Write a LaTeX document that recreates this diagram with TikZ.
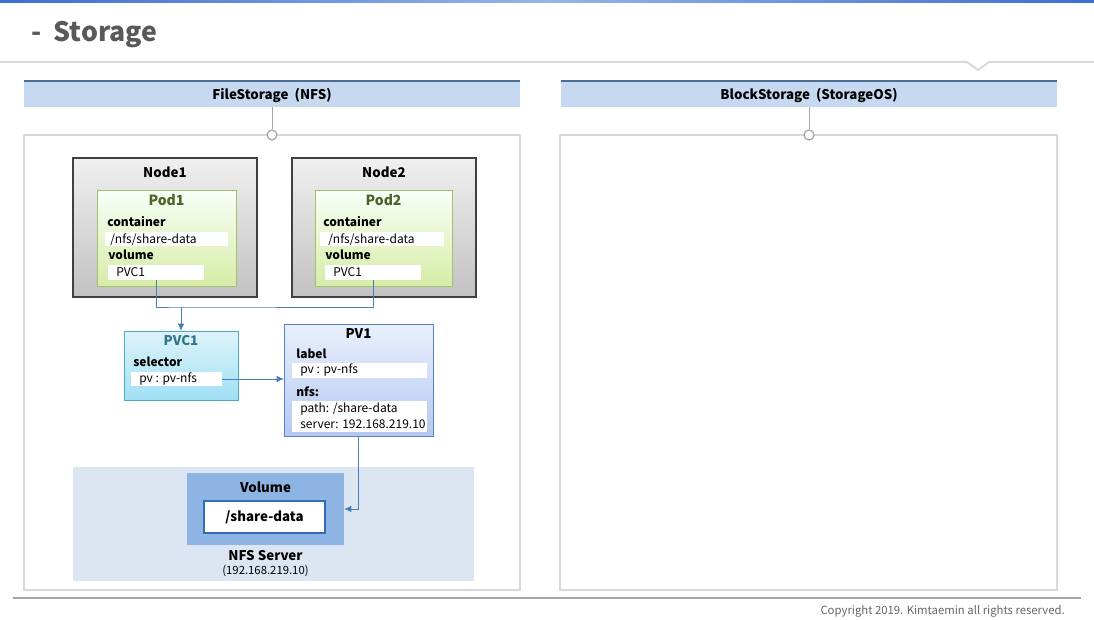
\documentclass[tikz,border=0pt]{standalone}
\usepackage{fontspec}
\setmainfont{Noto Sans CJK KR}
\usetikzlibrary{arrows.meta}
\definecolor{titlegray}{HTML}{595959}
\definecolor{hdrfill}{HTML}{C6D9F0}
\definecolor{hdrline}{HTML}{4D6D91}
\definecolor{linegray}{HTML}{A6A6A6}
\definecolor{boxgray}{HTML}{D9D9D9}
\definecolor{podtext}{HTML}{4F6228}
\definecolor{podline}{HTML}{A3C26B}
\definecolor{pvcline}{HTML}{4BACC6}
\definecolor{pvctext}{HTML}{31748B}
\definecolor{pvline}{HTML}{5B80C8}
\definecolor{arrowblue}{HTML}{4A7EBB}
\definecolor{nfsfill}{HTML}{DCE6F2}
\definecolor{volfill}{HTML}{8DB4E2}
\definecolor{volline}{HTML}{2F6DB5}
\begin{document}
\begin{tikzpicture}[x=0.75pt,y=-0.75pt,
  sz/.style 2 args={minimum width=#1*0.75pt,minimum height=#2*0.75pt,inner sep=0pt,outer sep=0pt,anchor=north west},
  nodebox/.style={draw=black!75,line width=0.9pt,top color=black!6,bottom color=black!24},
  podbox/.style={draw=podline,line width=0.75pt,top color=green!3!white,bottom color={rgb,255:red,214;green,236;blue,166}},
  pvcbox/.style={draw=pvcline,line width=0.75pt,top color={rgb,255:red,222;green,243;blue,250},bottom color={rgb,255:red,160;green,224;blue,245}},
  pvbox/.style={draw=pvline,line width=0.75pt,top color={rgb,255:red,234;green,240;blue,252},bottom color={rgb,255:red,180;green,200;blue,240}},
  field/.style={fill=white,draw=none},
  lbl/.style={font=\bfseries\fontsize{9}{10}\selectfont,anchor=west,inner sep=0pt},
  ftxt/.style={font=\fontsize{9}{10}\selectfont,anchor=west,inner sep=0pt},
  ttl/.style={font=\bfseries\fontsize{10}{12}\selectfont,inner sep=0pt},
  conn/.style={draw=arrowblue,line width=0.75pt},
  arr/.style={conn,-{Latex[length=5.5pt,width=5pt]}},
  hdr/.style={fill=hdrfill,draw=none},
  panel/.style={draw=boxgray,line width=1.5pt,fill=white},
  ring/.style={circle,draw=linegray,fill=white,line width=0.9pt,minimum size=7.5pt,inner sep=0pt}
]
\useasboundingbox (0,0) rectangle (1094,620);
% top bar
\shade[left color={rgb,255:red,60;green,110;blue,210},right color={rgb,255:red,60;green,110;blue,210},middle color={rgb,255:red,150;green,180;blue,230}] (0,0) rectangle (1094,3);
% title
\node[font=\bfseries\fontsize{20}{24}\selectfont,text=titlegray,anchor=west,inner sep=0pt] (title) at (31,35) {-\ \ Storage};
% separator with notch
\draw[boxgray,line width=1.5pt] (0,62) -- (967,62) -- (978,70) -- (989,62) -- (1094,62);
% headers
\node[hdr,sz={496}{26}] (h1) at (24,81) {};
\draw[hdrline,line width=1.5pt] (h1.north west) -- (h1.north east);
\node[ttl] at ([yshift=-1pt]h1.center) {FileStorage\ \ (NFS)};
\node[hdr,sz={496}{26}] (h2) at (561,81) {};
\draw[hdrline,line width=1.5pt] (h2.north west) -- (h2.north east);
\node[ttl] at ([yshift=-1pt]h2.center) {BlockStorage\ \ (StorageOS)};
% panels
\node[panel,sz={496}{455}] (p1) at (24,135) {};
\node[panel,sz={497}{455}] (p2) at (560,135) {};
\node[ring] (r1) at (p1.north) {};
\node[ring] (r2) at (h2.south |- p2.north) {};
\draw[linegray,line width=0.75pt] (h1.south) -- (r1.north);
\draw[linegray,line width=0.75pt] (h2.south) -- (r2.north);
% bottom line + copyright
\draw[linegray,line width=1.5pt] (13,598) -- (1081,598);
\node[font=\fontsize{8.5}{10}\selectfont,text=black!60,anchor=east,inner sep=0pt] (copy) at (1065,611) {Copyright 2019. Kimtaemin all rights reserved.};

% Node1
\node[nodebox,sz={184}{139}] (n1) at (73,158) {};
\node[ttl] at (165,172) {Node1};
\node[podbox,sz={139}{95}] (pod1) at (97,191) {};
\node[ttl,text=podtext,font=\bfseries\fontsize{10.5}{12}\selectfont] at (166.5,200) {Pod1};
\node[lbl] at (107,222) {container};
\node[field,sz={123}{14}] (f1c) at (105,232) {};
\node[ftxt] at (110,239.5) {/nfs/share-data};
\node[lbl] at (108,255) {volume};
\node[field,sz={96}{15}] (f1v) at (108,265) {};
\node[ftxt] at (116,272.5) {PVC1};

% Node2
\node[nodebox,sz={184}{139}] (n2) at (292,158) {};
\node[ttl] at (384,172) {Node2};
\node[podbox,sz={137}{95}] (pod2) at (315,191) {};
\node[ttl,text=podtext,font=\bfseries\fontsize{10.5}{12}\selectfont] at (383.5,200) {Pod2};
\node[lbl] at (323,222) {container};
\node[field,sz={124}{14}] (f2c) at (320,232) {};
\node[ftxt] at (328,239.5) {/nfs/share-data};
\node[lbl] at (325,255) {volume};
\node[field,sz={96}{15}] (f2v) at (325,265) {};
\node[ftxt] at (333,272.5) {PVC1};

% PVC1
\node[pvcbox,sz={114}{69}] (pvc) at (124,331) {};
\node[ttl,text=pvctext] at (181,341) {PVC1};
\node[lbl] at (133,362) {selector};
\node[field,sz={91}{14}] (pvcf) at (131,372) {};
\node[ftxt] at (139,379) {pv : pv-nfs};

% PV1
\node[pvbox,sz={149}{112}] (pv) at (284,324) {};
\node[ttl] at (358.5,334) {PV1};
\node[lbl] at (296,354) {label};
\node[field,sz={135}{15}] (pvl) at (292,363) {};
\node[ftxt] at (300,370.5) {pv : pv-nfs};
\node[lbl] at (296,392) {nfs:};
\node[field,sz={135}{31}] (pvn) at (292,401) {};
\node[ftxt] at (300,409.5) {path: /share-data};
\node[ftxt] at (300,424) {server: 192.168.219.10};

% NFS server
\node[fill=nfsfill,sz={401}{114}] (nfs) at (73,467) {};
\node[fill=volfill,sz={157}{72}] (vol) at (187,473) {};
\node[ttl] at (265.5,487) {Volume};
\node[draw=volline,fill=white,line width=1.5pt,sz={121}{32}] (share) at (204,501) {};
\node[ttl] at (share.center) {/share-data};
\node[ttl] at (265.5,556) {NFS Server};
\node[font=\fontsize{8.5}{10}\selectfont,inner sep=0pt] at (265.5,570.5) {(192.168.219.10)};

% connectors
\coordinate (j) at (pvc.north |- 0,307);
\draw[conn] (f1v.south) |- (j) -| (f2v.south);
\draw[arr] (j) -- (pvc.north);
\draw[arr] (pvcf.east) -- (pvcf.east -| pv.west);
\draw[arr] (pv.south) |- (vol.east);
\end{tikzpicture}
\end{document}
